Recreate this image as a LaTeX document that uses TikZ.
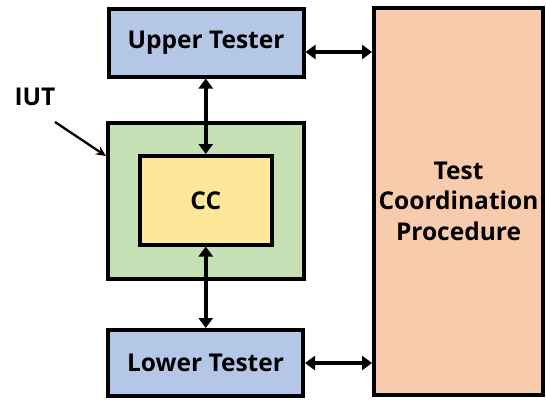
\documentclass[tikz,border=0pt]{standalone}
\usepackage{fontspec}
\setmainfont{Open Sans}
\usetikzlibrary{arrows.meta}
\definecolor{utblue}{HTML}{B4C7E7}
\definecolor{iutgreen}{HTML}{C5E0B4}
\definecolor{ccyellow}{HTML}{FFE699}
\definecolor{tcporange}{HTML}{F8CBAD}
\tikzset{
  blk/.style={draw=black, line width=4pt, inner sep=0pt, align=center,
    font=\fontsize{24.5}{30.5}\selectfont\bfseries},
  dbl/.style={line width=4pt, {Triangle[width=14pt,length=10pt]}-{Triangle[width=14pt,length=10pt]}},
  pointer/.style={line width=2.3pt, -{Stealth[width=9pt,length=10pt]}},
}
\begin{document}
\begin{tikzpicture}[x=1pt,y=-1pt]
  \useasboundingbox (0,0) rectangle (546,399);
  % tester and coordination boxes
  \node[blk, fill=utblue, minimum width=195pt, minimum height=68pt] (ut) at (206,42.5) {Upper Tester};
  \node[blk, fill=iutgreen, minimum width=195.5pt, minimum height=156pt] (iut) at (205.75,201) {};
  \node[blk, fill=ccyellow, minimum width=132.5pt, minimum height=88.5pt] (cc) at (205.75,200.25) {CC};
  \node[blk, fill=utblue, minimum width=195pt, minimum height=66pt] (lt) at (205.5,363) {Lower Tester};
  \node[blk, fill=tcporange, minimum width=169pt, minimum height=387pt] (tcp) at (458.5,201) {Test\\Coordination\\Procedure};
  % IUT label and pointer
  \node[font=\fontsize{24.5}{30}\selectfont\bfseries, inner sep=0pt] (iutlbl) at (35,97) {IUT};
  \coordinate (ptail) at (55,122);
  \draw[pointer] (ptail) -- (iut.west |- 0,156);
  % connections
  \coordinate (ua) at ([yshift=-9.5pt]ut.east);
  \draw[dbl] (ua) -- (ua -| tcp.west);
  \draw[dbl] (lt.east) -- (lt.east -| tcp.west);
  \draw[dbl] (cc.north |- ut.south) -- (cc.north);
  \draw[dbl] (cc.south) -- (cc.south |- lt.north);
\end{tikzpicture}
\end{document}
